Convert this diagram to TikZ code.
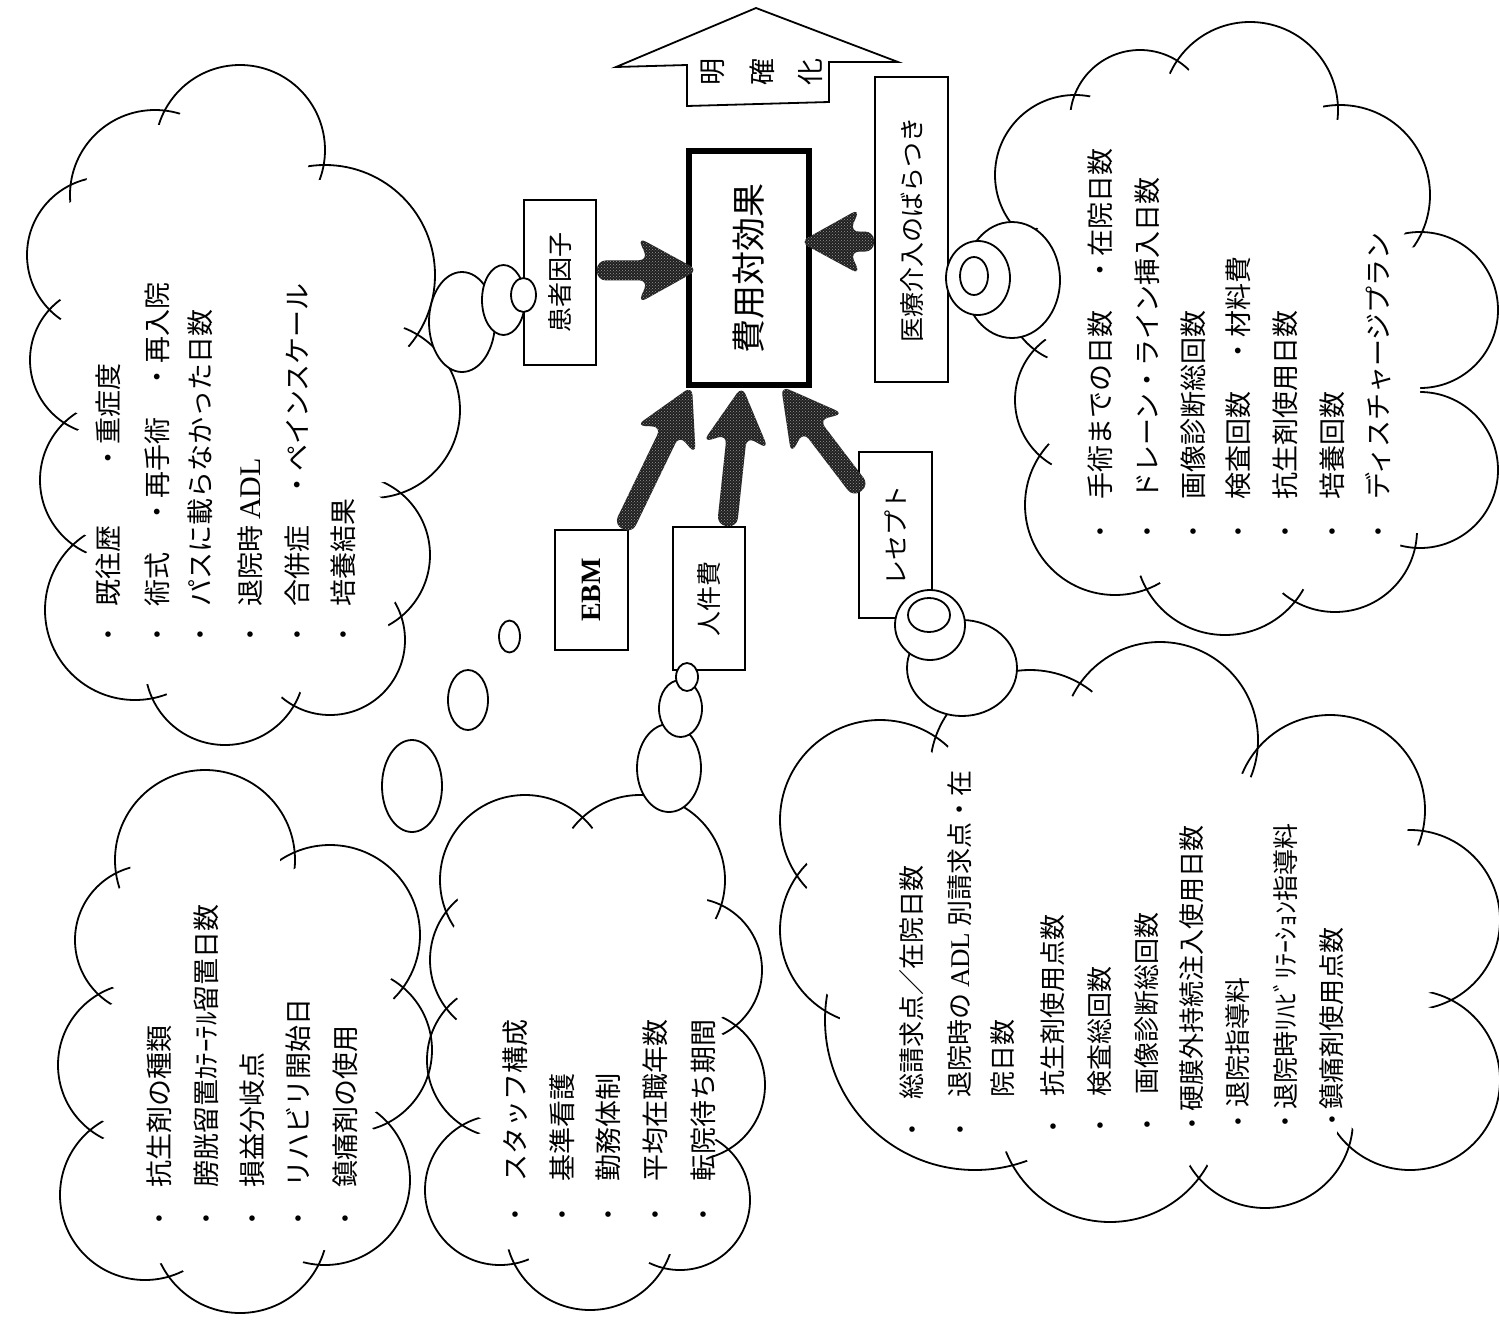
\documentclass[tikz,border=0pt]{standalone}
\usepackage{fontspec}
\newfontfamily\jp{Noto Sans CJK JP}
\newfontfamily\lser{Liberation Serif}
\usetikzlibrary{calc,patterns}

% cloud = outline of a union of circles; the inner ends of the arcs stay as short ticks
\newcommand\drawcloud[2]{%
  \foreach \cx/\cy/\rad in {#1}{\draw[outline] (\cx,\cy) circle[radius=\rad];}%
  \foreach \cx/\cy/\rad in {#1}{\pgfmathsetmacro\rin{\rad-15}\fill[white] (\cx,\cy) circle[radius=\rin];}%
  \fill[white] #2 -- cycle;%
}

% fat arrow from #1 to its tip #2
\newcommand\fatarrow[2]{%
  \fill[arrowfill] let \p1=(#1), \p2=(#2), \n1={atan2(\y2-\y1,\x2-\x1)} in
    ($(\p1)+(\n1+90:10pt)$) -- ($(\p2)+(\n1+180:50pt)+(\n1+90:10pt)$)
    -- ($(\p2)+(\n1+180:60pt)+(\n1+90:33pt)$) -- (\p2)
    -- ($(\p2)+(\n1+180:60pt)+(\n1-90:33pt)$) -- ($(\p2)+(\n1+180:50pt)+(\n1-90:10pt)$)
    -- ($(\p1)+(\n1-90:10pt)$) -- cycle;%
}

\begin{document}
\begin{tikzpicture}[x=1pt,y=-1pt,
  outline/.style={line width=1.8pt},
  box/.style={draw,line width=1.8pt,fill=white,inner sep=0pt,font=\jp\fontsize{25}{25}\selectfont},
  bubble/.style={draw,line width=1.8pt,fill=white},
  arrowfill/.style={fill=black!88,rounded corners=9pt,
    postaction={pattern=crosshatch dots,pattern color=black!40}},
  item/.style={rotate=90,anchor=west,inner sep=0pt,font=\jp\fontsize{27}{27}\selectfont},
  itemE/.style={item,font=\jp\fontsize{26}{26}\selectfont},
  dot/.style={inner sep=0pt,font=\jp\fontsize{26}{26}\selectfont}]
\useasboundingbox (0,0) rectangle (1499,1325);
\fill[white] (0,0) rectangle (1499,1325);

% ---------- clouds ----------
\drawcloud{155/195/85, 240/150/85, 325/275/110, 372/410/88, 350/555/80, 330/640/75, 225/665/80, 135/610/90, 120/480/80, 105/360/75, 105/255/78}
  {(155,195) -- (240,150) -- (325,275) -- (372,410) -- (350,555) -- (330,640) -- (225,665) -- (135,610) -- (120,480) -- (105,360) -- (105,255)}

\drawcloud{1075/175/80, 1140/120/70, 1250/110/88, 1340/195/90, 1420/310/78, 1420/470/78, 1335/530/82, 1225/545/90, 1115/505/90, 1090/400/75, 1080/290/75}
  {(1075,175) -- (1140,120) -- (1250,110) -- (1340,195) -- (1420,310) -- (1420,470) -- (1335,530) -- (1225,545) -- (1115,505) -- (1090,400) -- (1080,290)}

\drawcloud{205/860/90, 330/935/90, 350/1050/82, 325/1180/85, 240/1225/88, 145/1195/85, 140/1065/82, 150/940/75}
  {(205,860) -- (330,935) -- (350,1050) -- (325,1180) -- (240,1225) -- (145,1195) -- (140,1065) -- (150,940)}

\drawcloud{525/880/85, 640/880/85, 690/970/72, 690/1085/75, 680/1200/70, 590/1225/85, 500/1190/75, 505/1060/78, 510/960/80}
  {(525,880) -- (640,880) -- (690,970) -- (690,1085) -- (680,1200) -- (590,1225) -- (500,1190) -- (505,1060) -- (510,960)}

\drawcloud{880/820/100, 1030/770/100, 1160/740/98, 1330/810/95, 1410/920/90, 1410/1080/90, 1265/1120/88, 1110/1110/112, 975/1020/150, 875/930/95}
  {(880,820) -- (1030,770) -- (1160,740) -- (1330,810) -- (1410,920) -- (1410,1080) -- (1265,1120) -- (1110,1110) -- (975,1020) -- (875,930)}

% ---------- boxes ----------
\node[box,minimum width=72pt,minimum height=165pt] (pt) at (560,282.5) {\rotatebox{90}{患者因子}};
\node[box,line width=6pt,minimum width=120pt,minimum height=234pt,font=\jp\fontsize{34}{34}\selectfont] (hiyou) at (749,268) {\rotatebox{90}{費用対効果}};
\node[box,minimum width=73pt,minimum height=305pt] (iryo) at (911.5,229.5) {\rotatebox{90}{医療介入のばらつき}};
\node[box,minimum width=73pt,minimum height=120pt,font=\lser\bfseries\fontsize{28}{28}\selectfont] (ebm) at (591.5,590) {\rotatebox{90}{EBM}};
\node[box,minimum width=72pt,minimum height=143pt] (jinken) at (709,598.5) {\rotatebox{90}{人件費}};
\node[box,minimum width=73pt,minimum height=166pt] (rece) at (895.5,535) {\rotatebox{90}{レセプト}};

% upward block arrow
\draw[outline] (616,67) -- (756,8) -- (898,62) -- (829,62) -- (829,102) -- (687,106) -- (687,65) -- cycle;
\foreach \nm/\xx/\ch in {m1/713/明, m2/762/確, m3/810/化}
  \node[rotate=90,inner sep=0pt,font=\jp\fontsize{27}{27}\selectfont] (\nm) at (\xx,72) {\ch};

% ---------- fat arrows ----------
\fatarrow{$(pt.east)+(0,-12)$}{$(hiyou.west)+(12,2)$}
\fatarrow{$(iryo.west)+(0,12)$}{$(hiyou.east)+(-12,-26)$}
\fatarrow{$(ebm.north east)+(-6,0)$}{$(hiyou.south)+(-57,-2)$}
\fatarrow{$(jinken.north)+(18,0)$}{$(hiyou.south)+(-7,-2)$}
\fatarrow{$(rece.north west)+(3,40)$}{$(hiyou.south)+(32,-2)$}

% ---------- thought bubbles ----------
\draw[bubble] (462,322) ellipse[x radius=33,y radius=50];
\draw[bubble] (503.5,300) ellipse[x radius=21.5,y radius=35];
\draw[bubble] (523.5,295) ellipse[x radius=12.5,y radius=17];

\draw[bubble] (1012,280) ellipse[x radius=48,y radius=58];
\draw[bubble] (978,278) ellipse[x radius=32,y radius=37];
\draw[bubble] (974,276) ellipse[x radius=14,y radius=19];

\draw[bubble] (962,668) ellipse[x radius=55,y radius=48];
\draw[bubble] (930,625) ellipse[x radius=35,y radius=35];
\draw[bubble] (929,615) ellipse[x radius=21,y radius=17];

\draw[bubble] (669,768) ellipse[x radius=32,y radius=44];
\draw[bubble] (680.5,708.5) ellipse[x radius=21.5,y radius=28.5];
\draw[bubble] (687,677) ellipse[x radius=11,y radius=14];

\draw[bubble] (509.5,636.5) ellipse[x radius=10.5,y radius=16];
\draw[bubble] (468,700) ellipse[x radius=20,y radius=30];
\draw[bubble] (412,786) ellipse[x radius=30,y radius=46];

% ---------- cloud texts ----------
\foreach \nm/\xx/\tx in {a1/108/{既往歴　　・重症度}, a2/157/{術式　・再手術　・再入院}, a3/200/{パスに載らなかった日数}, a4/250/{退院時 {\lser\fontsize{30}{30}\selectfont ADL}}, a5/297/{合併症　・ペインスケール}, a6/343/{培養結果}}{
  \node[item] (\nm) at (\xx,607) {\tx};
  \node[dot] (\nm-b) at (\xx,638) {・};
}
\foreach \nm/\xx/\tx in {b1/1100/{手術までの日数　・在院日数}, b2/1147/{ドレーン・ライン挿入日数}, b3/1193/{画像診断総回数}, b4/1238/{検査回数　・材料費}, b5/1285/{抗生剤使用日数}, b6/1332/{培養回数}, b7/1378/{ディスチャージプラン}}{
  \node[item] (\nm) at (\xx,500) {\tx};
  \node[dot] (\nm-b) at (\xx,535) {・};
}
\foreach \nm/\xx/\tx in {c1/159/{抗生剤の種類}, c2/206/{膀胱留置ｶﾃｰﾃﾙ留置日数}, c3/252/{損益分岐点}, c4/298/{リハビリ開始日}, c5/345/{鎮痛剤の使用}}{
  \node[item] (\nm) at (\xx,1188) {\tx};
  \node[dot] (\nm-b) at (\xx,1222) {・};
}
\foreach \nm/\xx/\tx in {d1/515/{スタッフ構成}, d2/562/{基準看護}, d3/608/{勤務体制}, d4/655/{平均在職年数}, d5/703/{転院待ち期間}}{
  \node[item] (\nm) at (\xx,1182) {\tx};
  \node[dot] (\nm-b) at (\xx,1218) {・};
}
\foreach \nm/\xx/\yt/\yb/\tx in {e1/912/1100/1133/{総請求点／在院日数}, e2/960/1098/1133/{退院時の {\lser\fontsize{27}{27}\selectfont ADL} 別請求点・在}, e4/1053/1097/1130/{抗生剤使用点数}, e5/1100/1097/1129/{検査総回数}, e6/1147/1095/1128/{画像診断総回数}, e7/1192/1112/1127/{硬膜外持続注入使用日数}, e8/1238/1108/1125/{退院指導料}, e9/1285/1110/1125/{退院時ﾘﾊﾋﾞﾘﾃｰｼｮﾝ指導料}, e10/1332/1110/1123/{鎮痛剤使用点数}}{
  \node[itemE] (\nm) at (\xx,\yt) {\tx};
  \node[dot] (\nm-b) at (\xx,\yb) {・};
}
\node[itemE] (e3) at (1003,1098) {院日数};

\end{tikzpicture}
\end{document}
